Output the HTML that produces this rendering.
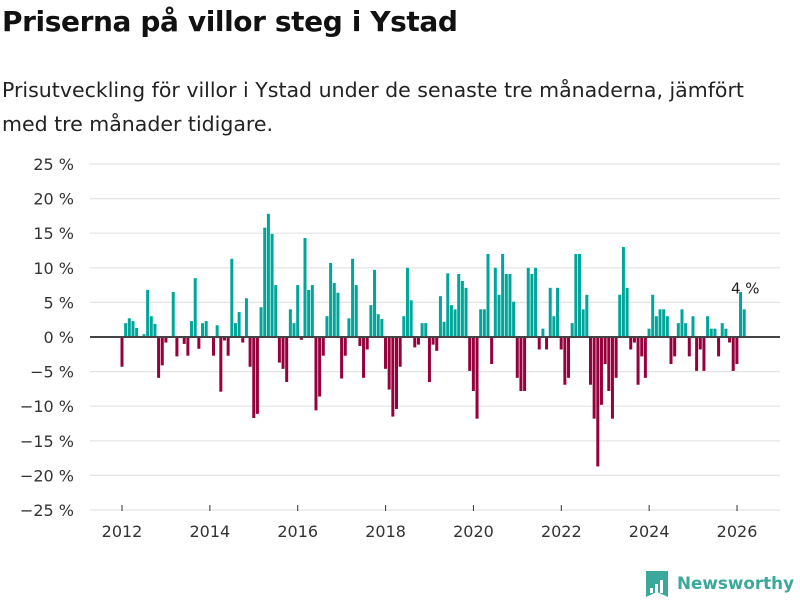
<!DOCTYPE html>
<html><head><meta charset="utf-8">
<style>
body{margin:0;background:#fff;font-family:"Liberation Sans","DejaVu Sans",sans-serif;}
#wrap{position:relative;width:800px;height:600px;overflow:hidden;}
h1{position:absolute;left:2px;top:5px;margin:0;font-size:28px;font-weight:bold;color:#111;font-family:"DejaVu Sans","Liberation Sans",sans-serif;letter-spacing:-0.4px}
p.sub{position:absolute;left:2px;top:73px;margin:0;font-size:20.5px;line-height:34px;color:#222;font-family:"DejaVu Sans","Liberation Sans",sans-serif;width:785px}
svg{position:absolute;left:0;top:0}
</style></head><body>
<div id="wrap">
<h1>Priserna på villor steg i Ystad</h1>
<p class="sub">Prisutveckling för villor i Ystad under de senaste tre månaderna, jämfört<br>med tre månader tidigare.</p>
<svg id="chart" width="800" height="600"></svg>
</div>
<script>
const yTicks=[25,20,15,10,5,0,-5,-10,-15,-20,-25];
const xYears=[2012,2014,2016,2018,2020,2022,2024,2026];
const values=[-4.3,2.0,2.7,2.3,1.3,0,0.4,6.8,3.0,1.9,-5.9,-4.1,
-0.8,0,6.5,-2.8,0,-1.0,-2.7,2.3,8.5,-1.7,2.0,2.3,
0,-2.7,1.7,-7.9,-0.5,-2.7,11.3,2.0,3.6,-0.8,5.6,-4.3,
-11.7,-11.1,4.3,15.8,17.8,14.9,7.5,-3.7,-4.6,-6.5,4.0,2.0,
7.5,-0.4,14.3,6.8,7.5,-10.6,-8.6,-2.7,3.0,10.7,7.8,6.4,
-6.0,-2.7,2.7,11.3,7.5,-1.3,-5.9,-1.8,4.6,9.7,3.3,2.6,
-4.6,-7.6,-11.5,-10.4,-4.3,3.0,10.0,5.3,-1.5,-1.1,2.0,2.0,
-6.5,-1.1,-2.0,5.9,2.2,9.2,4.6,4.0,9.1,8.1,7.1,-4.9,
-7.8,-11.8,4.0,4.0,12.0,-3.9,10.0,6.1,12.0,9.1,9.1,5.1,
-5.9,-7.8,-7.8,10.0,9.1,10.0,-1.8,1.2,-1.8,7.1,3.0,7.1,
-1.8,-6.9,-5.9,2.0,12.0,12.0,4.0,6.1,-6.9,-11.8,-18.7,-9.8,
-3.9,-7.8,-11.8,-5.9,6.1,13.0,7.1,-1.8,-0.8,-6.9,-2.8,-5.9,
1.2,6.1,3.0,4.0,4.0,3.0,-3.9,-2.8,2.0,4.0,2.0,-2.8,
3.0,-4.9,-1.8,-4.9,3.0,1.2,1.2,-2.8,2.0,1.2,-0.8,-4.9,
-3.9,6.5,4.0];
const lastLabel="4 %";

const NS="http://www.w3.org/2000/svg";
const svg=document.getElementById('chart');
const y=v=>337-v*6.92;
const x=m=>122+m*3.66;
const xy=yr=>122+(yr-2012)*43.93;
function mk(t,a){const e=document.createElementNS(NS,t);for(const k in a)e.setAttribute(k,a[k]);svg.appendChild(e);return e;}
yTicks.forEach(t=>{
  const g=mk('line',{x1:90,x2:780,y1:y(t),y2:y(t),stroke:'#e3e3e3','stroke-width':1.2});
  
  
  const l=mk('text',{x:74,y:y(t)+6,'text-anchor':'end','font-size':16,fill:'#333','font-family':'DejaVu Sans, Liberation Sans, sans-serif'});
  l.textContent=(t<0?'\u2212'+(-t):t)+' %';
  
  
});
xYears.forEach(yr=>{
  const l=mk('text',{x:xy(yr),y:537,'text-anchor':'middle','font-size':16,fill:'#333','font-family':'DejaVu Sans, Liberation Sans, sans-serif'});
  l.textContent=yr;
  
  
  const tk=mk('line',{x1:xy(yr),x2:xy(yr),y1:505,y2:511,stroke:'#333','stroke-width':1});
  
  
});
values.forEach((v,i)=>{
  if(v===0)return;
  const top=Math.min(y(v),y(0)),h=Math.abs(y(v)-y(0));
  const r=mk('rect',{x:x(i)-1.5,y:top,width:3,height:h,fill:v>0?'#00a69a':'#96003c'});
  
  
});
const z=mk('line',{x1:90,x2:780,y1:y(0),y2:y(0),stroke:'#444','stroke-width':2});


const li=values.length-1;
const lab=mk('text',{x:x(li+0.3),y:y(values[li])-16,'text-anchor':'middle','font-size':15,fill:'#222','font-family':'DejaVu Sans, Liberation Sans, sans-serif'});
lab.textContent=lastLabel;


// logo
const lg=mk('g',{});


const lr=document.createElementNS(NS,'path');
lr.setAttribute('d','M646 571 h22 v26 l-11 -5 l-11 5 z');lr.setAttribute('fill','#3aa89a');lg.appendChild(lr);
[[650,588,3,5],[655,584,3,9],[660,580,3,13]].forEach(b=>{const r=document.createElementNS(NS,'rect');r.setAttribute('x',b[0]);r.setAttribute('y',b[1]);r.setAttribute('width',b[2]);r.setAttribute('height',b[3]);r.setAttribute('fill','#fff');lg.appendChild(r);});
const lt=document.createElementNS(NS,'text');
lt.setAttribute('x',677);lt.setAttribute('y',589);lt.setAttribute('font-size',17);lt.setAttribute('font-weight','bold');lt.setAttribute('fill','#3aa89a');lt.setAttribute('font-family','DejaVu Sans, Liberation Sans, sans-serif');
lt.setAttribute('textLength',117);lt.setAttribute('lengthAdjust','spacingAndGlyphs');
lt.textContent='Newsworthy';lg.appendChild(lt);
</script>
</body></html>
